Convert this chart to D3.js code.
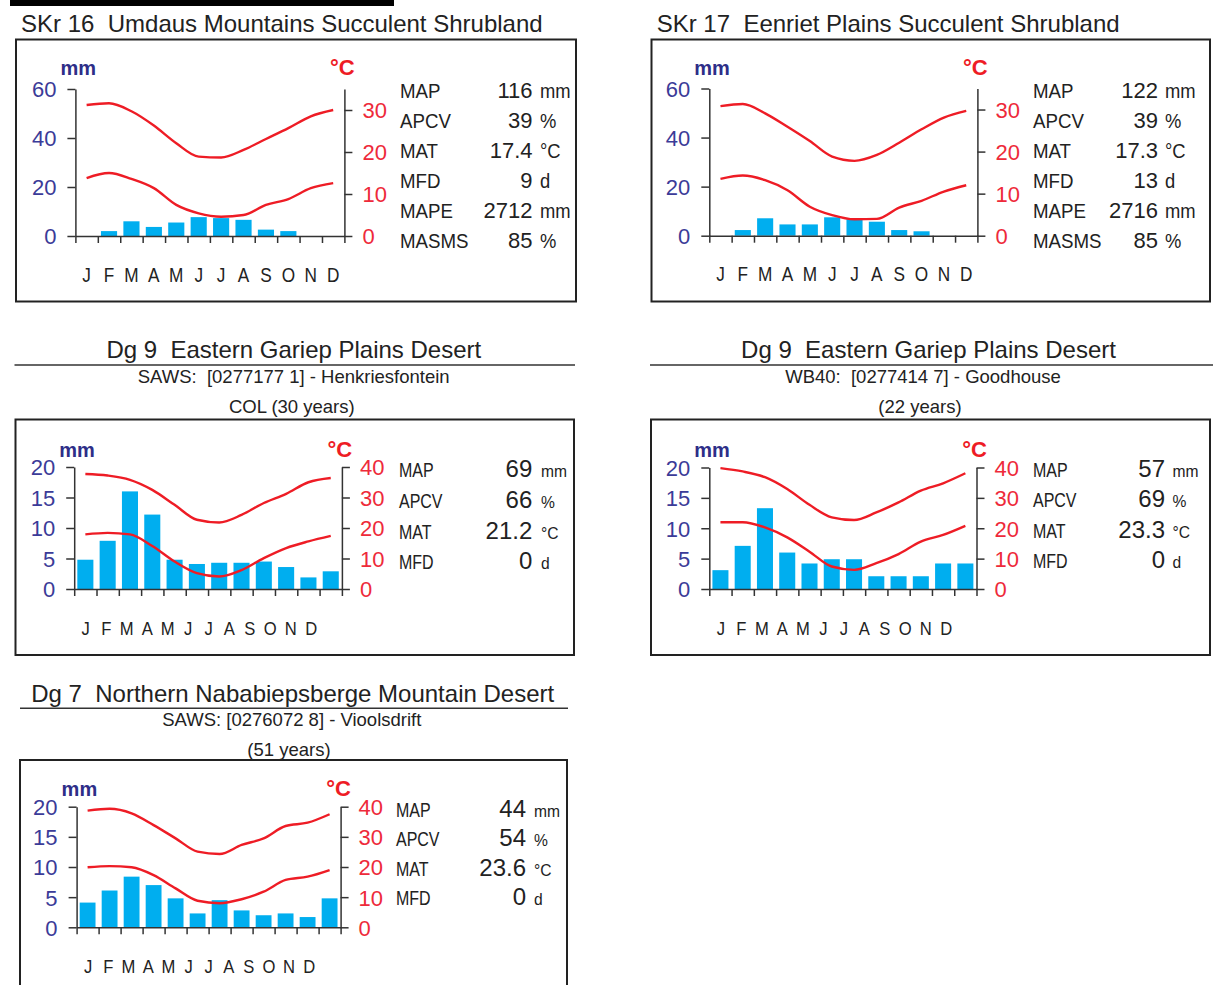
<!DOCTYPE html>
<html>
<head>
<meta charset="utf-8">
<script src="https://cdn.jsdelivr.net/npm/d3@7"></script>
<style>
  body { margin: 0; background: #fff; }
  svg { display: block; }
  text { font-family: "Liberation Sans", Arial, Helvetica, sans-serif; white-space: pre; }
</style>
</head>
<body>
<svg id="chart" width="1213" height="985"></svg>
<script>
// ---- data ----
const months = ["J", "F", "M", "A", "M", "J", "J", "A", "S", "O", "N", "D"];

const statLabels = ["MAP", "APCV", "MAT", "MFD", "MAPE", "MASMS"];
const statUnits = ["mm", "%", "°C", "d", "mm", "%"];

// SKr 16 Umdaus Mountains Succulent Shrubland
const skr16Rain = [0, 2.0, 6.0, 3.7, 5.5, 7.7, 7.3, 6.6, 2.6, 2.0, 0, 0];
const skr16TMax = [31.2, 31.6, 29.7, 26.3, 22.1, 18.9, 18.7, 20.5, 23.1, 25.7, 28.5, 30.0];
const skr16TMin = [13.8, 15.0, 13.6, 11.4, 7.4, 5.4, 4.6, 5.0, 7.4, 8.8, 11.4, 12.6];
const skr16Stats = ["116", "39", "17.4", "9", "2712", "85"];

// SKr 17 Eenriet Plains Succulent Shrubland
const skr17Rain = [0, 2.3, 7.1, 4.6, 4.6, 7.5, 6.7, 5.7, 2.3, 1.8, 0, 0];
const skr17TMax = [30.8, 31.3, 29.1, 25.9, 22.5, 18.8, 17.8, 19.2, 22.1, 25.3, 28.1, 29.7];
const skr17TMin = [13.5, 14.3, 13.2, 10.8, 6.9, 4.9, 3.9, 4.0, 6.7, 8.3, 10.5, 12.0];
const skr17Stats = ["122", "39", "17.3", "13", "2716", "85"];

// Dg 9 Henkriesfontein
const henkRain = [4.8, 7.9, 16.0, 12.2, 4.8, 4.1, 4.3, 4.3, 4.5, 3.6, 1.9, 2.9];
const henkTMax = [37.7, 37.2, 35.8, 32.5, 27.6, 22.7, 21.8, 24.3, 28.2, 31.2, 35.0, 36.4];
const henkTMin = [17.9, 18.4, 17.9, 14.1, 9.0, 5.2, 4.1, 6.2, 10.1, 13.4, 15.6, 17.4];
const henkStats = ["69", "66", "21.2", "0"];

// Dg 9 Goodhouse
const goodRain = [3.1, 7.1, 13.3, 6.0, 4.2, 4.9, 4.9, 2.1, 2.1, 2.1, 4.2, 4.2];
const goodTMax = [39.8, 38.7, 36.8, 32.9, 27.7, 23.6, 22.7, 25.2, 28.5, 32.4, 34.8, 38.1];
const goodTMin = [22.0, 22.0, 20.3, 17.0, 12.3, 7.4, 6.3, 8.5, 11.5, 15.6, 17.8, 20.8];
const goodStats = ["57", "69", "23.3", "0"];

// Dg 7 Vioolsdrift
const viooRain = [4.1, 6.1, 8.4, 7.0, 4.8, 2.3, 4.5, 2.8, 2.0, 2.3, 1.7, 4.8];
const viooTMax = [38.7, 39.3, 37.8, 33.9, 29.5, 25.1, 24.3, 27.3, 29.5, 33.6, 34.7, 37.5];
const viooTMin = [19.9, 20.3, 19.9, 17.3, 12.9, 8.8, 8.0, 9.3, 11.8, 15.7, 16.8, 19.0];
const viooStats = ["44", "54", "23.6", "0"];

// ---- layout ----
const panels = [
  {
    rain: skr16Rain, tmax: skr16TMax, tmin: skr16TMin, stats: skr16Stats,
    frame: [16, 39.5, 576, 301.5],
    l: 75.4, r: 344.4, t: 89, b: 236,
    rainTicks: [0, 20, 40, 60], tMax: 35, tTicks: [0, 10, 20, 30],
    title: "SKr 16  Umdaus Mountains Succulent Shrubland", titleX: 21, titleY: 32.3, titleAnchor: "start",
    statX: [400, 532.5, 540], statY0: 98.3, statDy: 30,
    labelSize: 21, labelScale: 0.89, valueSize: 22, unitSize: 20, unitScale: 0.92,
    monthSize: 21, monthScale: 0.82, bandMonths: true, mmDy: 14
  },
  {
    rain: skr17Rain, tmax: skr17TMax, tmin: skr17TMin, stats: skr17Stats,
    frame: [651.5, 39.5, 1210, 301.5],
    l: 709.3, r: 977.4, t: 88.5, b: 235.7,
    rainTicks: [0, 20, 40, 60], tMax: 35, tTicks: [0, 10, 20, 30],
    title: "SKr 17  Eenriet Plains Succulent Shrubland", titleX: 656.7, titleY: 32.3, titleAnchor: "start",
    statX: [1033, 1158, 1165], statY0: 98.3, statDy: 30,
    labelSize: 21, labelScale: 0.89, valueSize: 22, unitSize: 20, unitScale: 0.92,
    monthSize: 21, monthScale: 0.82, bandMonths: true, mmDy: 14
  },
  {
    rain: henkRain, tmax: henkTMax, tmin: henkTMin, stats: henkStats,
    frame: [15.5, 419.5, 574, 655],
    l: 74.2, r: 341.9, t: 467, b: 589,
    rainTicks: [0, 5, 10, 15, 20], tMax: 40, tTicks: [0, 10, 20, 30, 40],
    title: "Dg 9  Eastern Gariep Plains Desert", titleX: 293.8, titleY: 358.3, titleAnchor: "middle",
    rule: [14.5, 575, 365],
    sub: "SAWS:  [0277177 1] - Henkriesfontein", subX: 293.7, subY: 383.3,
    sub2: "COL (30 years)", sub2X: 291.8, sub2Y: 413.3,
    statX: [399, 532.3, 541], statY0: 477.3, statDy: 30.6,
    labelSize: 19.5, labelScale: 0.82, valueSize: 24, unitSize: 17, unitScale: 0.92,
    monthSize: 17.5, monthScale: 0.95, bandMonths: false, monthStep: 20.5, mmDy: 10.5
  },
  {
    rain: goodRain, tmax: goodTMax, tmin: goodTMin, stats: goodStats,
    frame: [651, 419.5, 1210, 655],
    l: 709.3, r: 976.5, t: 467.5, b: 589,
    rainTicks: [0, 5, 10, 15, 20], tMax: 40, tTicks: [0, 10, 20, 30, 40],
    title: "Dg 9  Eastern Gariep Plains Desert", titleX: 928.5, titleY: 358.3, titleAnchor: "middle",
    rule: [650, 1213, 365],
    sub: "WB40:  [0277414 7] - Goodhouse", subX: 923, subY: 383.3,
    sub2: "(22 years)", sub2X: 920, sub2Y: 413.3,
    statX: [1033, 1165, 1172.6], statY0: 476.9, statDy: 30.3,
    labelSize: 19.5, labelScale: 0.82, valueSize: 24, unitSize: 17, unitScale: 0.92,
    monthSize: 17.5, monthScale: 0.95, bandMonths: false, monthStep: 20.5, mmDy: 10.5
  },
  {
    rain: viooRain, tmax: viooTMax, tmin: viooTMin, stats: viooStats,
    frame: [20, 760, 567, 1000],
    l: 76.6, r: 340.6, t: 806.7, b: 927.3,
    rainTicks: [0, 5, 10, 15, 20], tMax: 40, tTicks: [0, 10, 20, 30, 40],
    title: "Dg 7  Northern Nababiepsberge Mountain Desert", titleX: 292.7, titleY: 701.7, titleAnchor: "middle",
    rule: [20, 568, 708.3],
    sub: "SAWS: [0276072 8] - Vioolsdrift", subX: 291.8, subY: 726,
    sub2: "(51 years)", sub2X: 289, sub2Y: 756,
    statX: [396, 526, 534], statY0: 816.7, statDy: 29.5,
    labelSize: 19.5, labelScale: 0.82, valueSize: 24, unitSize: 17, unitScale: 0.92,
    monthSize: 17.5, monthScale: 0.95, bandMonths: false, monthStep: 20.1, mmDy: 10.5
  }
];

const svg = d3.select("#chart");

// heavy rule cut off at the top of the page
svg.append("rect").attr("x", 10).attr("y", 0).attr("width", 384).attr("height", 6).attr("fill", "#000");

panels.forEach(drawPanel);

// text squeezed horizontally, like the narrow face of the original
function narrowText(sel, x, y, sx) {
  return sel.append("text")
    .attr("transform", `translate(${x},${y}) scale(${sx},1)`);
}

function drawPanel(p) {
  const g = svg.append("g");

  g.append("rect")
    .attr("x", p.frame[0]).attr("y", p.frame[1])
    .attr("width", p.frame[2] - p.frame[0]).attr("height", p.frame[3] - p.frame[1])
    .attr("fill", "none").attr("stroke", "#222").attr("stroke-width", 2);

  g.append("text")
    .attr("x", p.titleX).attr("y", p.titleY)
    .attr("text-anchor", p.titleAnchor)
    .attr("font-size", 24).attr("fill", "#222")
    .text(p.title);

  if (p.rule) {
    g.append("line")
      .attr("x1", p.rule[0]).attr("x2", p.rule[1])
      .attr("y1", p.rule[2]).attr("y2", p.rule[2])
      .attr("stroke", "#333").attr("stroke-width", 1.5);
    g.append("text").attr("x", p.subX).attr("y", p.subY)
      .attr("text-anchor", "middle").attr("font-size", 18.5).attr("fill", "#222")
      .text(p.sub);
    g.append("text").attr("x", p.sub2X).attr("y", p.sub2Y)
      .attr("text-anchor", "middle").attr("font-size", 18.5).attr("fill", "#222")
      .text(p.sub2);
  }

  const x = d3.scaleBand().domain(d3.range(12)).range([p.l, p.r])
    .paddingInner(0.28).paddingOuter(0.14);
  const xTick = d3.scaleLinear().domain([0, 12]).range([p.l, p.r]);
  const yRain = d3.scaleLinear().domain([0, d3.max(p.rainTicks)]).range([p.b, p.t]);
  const yTemp = d3.scaleLinear().domain([0, p.tMax]).range([p.b, p.t]);
  const cx = i => x(i) + x.bandwidth() / 2;

  // rainfall bars
  g.append("g").selectAll("rect")
    .data(p.rain)
    .join("rect")
    .attr("x", (d, i) => x(i))
    .attr("width", x.bandwidth())
    .attr("y", d => yRain(d))
    .attr("height", d => yRain(0) - yRain(d))
    .attr("fill", "#00aeef");

  // temperature curves
  const line = d3.line()
    .x((d, i) => cx(i))
    .y(d => yTemp(d))
    .curve(d3.curveMonotoneX);

  [p.tmax, p.tmin].forEach(series => {
    g.append("path")
      .datum(series)
      .attr("d", line)
      .attr("fill", "none")
      .attr("stroke", "#ee1c25")
      .attr("stroke-width", 2.4);
  });

  // axes
  const axL = g.append("g")
    .attr("transform", `translate(${p.l},0)`)
    .call(d3.axisLeft(yRain).tickValues(p.rainTicks).tickSize(8).tickSizeOuter(0).tickPadding(11));
  const axR = g.append("g")
    .attr("transform", `translate(${p.r},0)`)
    .call(d3.axisRight(yTemp).tickValues(p.tTicks).tickSize(8).tickSizeOuter(0).tickPadding(10));
  const axB = g.append("g")
    .attr("transform", `translate(0,${p.b})`)
    .call(d3.axisBottom(xTick).tickValues(d3.range(13)).tickSize(7).tickSizeOuter(0).tickFormat(""));

  [axL, axR, axB].forEach(ax => {
    ax.attr("font-family", null).attr("font-size", null);
    ax.selectAll("path, line").attr("stroke", "#333").attr("stroke-width", 1.5);
  });
  axL.selectAll("text").attr("font-size", 22).attr("fill", "#3b3b98").attr("dy", "0.36em");
  axR.selectAll("text").attr("font-size", 22).attr("fill", "#ee2a3a").attr("dy", "0.36em");

  // unit captions over the axes
  g.append("text")
    .attr("x", p.l - 15).attr("y", p.t - p.mmDy)
    .attr("font-size", 20).attr("font-weight", "bold").attr("fill", "#2e2e88")
    .text("mm");
  g.append("text")
    .attr("x", p.r - 2).attr("y", p.t - p.mmDy)
    .attr("text-anchor", "middle")
    .attr("font-size", 22).attr("font-weight", "bold").attr("fill", "#ee1c25")
    .text("°C");

  // month letters
  let mx;
  if (p.bandMonths) {
    mx = cx;
  } else {
    const pt = d3.scalePoint().domain(d3.range(12))
      .range([p.l + 11.5, p.l + 11.5 + 11 * p.monthStep]);
    mx = i => pt(i);
  }
  const mg = g.append("g");
  months.forEach((m, i) => {
    narrowText(mg, mx(i), p.b + 45.5, p.monthScale)
      .attr("text-anchor", "middle")
      .attr("font-size", p.monthSize)
      .attr("fill", "#222")
      .text(m);
  });

  // summary statistics
  const sg = g.append("g");
  p.stats.forEach((v, i) => {
    const y = p.statY0 + i * p.statDy;
    narrowText(sg, p.statX[0], y, p.labelScale)
      .attr("font-size", p.labelSize).attr("fill", "#222")
      .text(statLabels[i]);
    sg.append("text")
      .attr("x", p.statX[1]).attr("y", y).attr("text-anchor", "end")
      .attr("font-size", p.valueSize).attr("fill", "#222")
      .text(v);
    narrowText(sg, p.statX[2], y, p.unitScale)
      .attr("font-size", p.unitSize).attr("fill", "#222")
      .text(statUnits[i]);
  });
}
</script>
</body>
</html>
